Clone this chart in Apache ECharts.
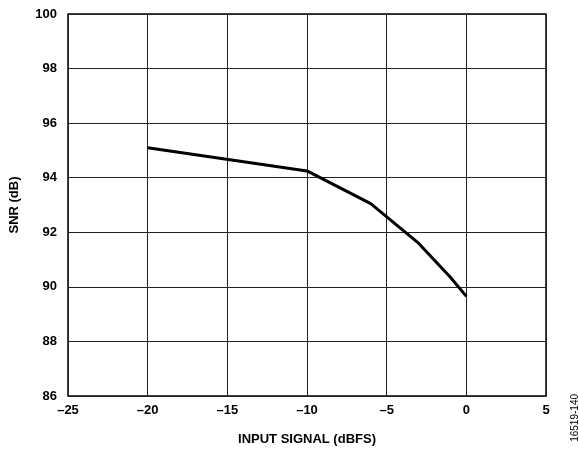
<!DOCTYPE html>
<html>
<head>
<meta charset="utf-8">
<script src="https://cdn.jsdelivr.net/npm/echarts@6/dist/echarts.min.js"></script>
<style>
html,body{margin:0;padding:0;background:#fff;}
#main{width:579px;height:451px;}
</style>
</head>
<body>
<div id="main"></div>
<script>
// 输入信号 (dBFS) 与 SNR (dB)
var inputSignal = [-20, -10, -6, -3, -1, 0]
var snrValues = [95.1, 94.25, 93.05, 91.6, 90.35, 89.65]
var xTicks = [-25, -20, -15, -10, -5, 0, 5]
var yTicks = [86, 88, 90, 92, 94, 96, 98, 100]

var lineData = []
for (var i = 0; i < inputSignal.length; i++) {
    lineData.push([inputSignal[i], snrValues[i]])
}

function fmtMinus(v) {
    return v < 0 ? '\u2013' + Math.abs(v) : '' + v
}

var myChart = echarts.init(document.getElementById('main'))
var option = {
    animation: false,
    textStyle: {fontFamily: 'Liberation Sans'},
    grid: {
        left: 68,
        right: 33,
        top: 14,
        bottom: 55,
        show: true,
        borderColor: '#000',
        borderWidth: 1.5
    },
    xAxis: {
        type: 'value',
        min: xTicks[0],
        max: xTicks[xTicks.length - 1],
        interval: 5,
        name: 'INPUT SIGNAL (dBFS)',
        nameLocation: 'middle',
        nameGap: 37,
        nameTextStyle: {color: '#000', fontSize: 13, fontWeight: 'bold'},
        axisLine: {show: false},
        axisTick: {show: false},
        splitLine: {show: true, lineStyle: {color: '#222', width: 1}},
        axisLabel: {
            color: '#000',
            fontSize: 13,
            fontWeight: 'bold',
            margin: 8,
            formatter: fmtMinus
        }
    },
    yAxis: {
        type: 'value',
        min: yTicks[0],
        max: yTicks[yTicks.length - 1],
        interval: 2,
        name: 'SNR (dB)',
        nameLocation: 'middle',
        nameGap: 47,
        nameTextStyle: {color: '#000', fontSize: 13, fontWeight: 'bold'},
        axisLine: {show: false},
        axisTick: {show: false},
        splitLine: {show: true, lineStyle: {color: '#222', width: 1}},
        axisLabel: {
            color: '#000',
            fontSize: 13,
            fontWeight: 'bold',
            margin: 11
        }
    },
    graphic: [
        {
            type: 'text',
            left: 570,
            top: 394,
            rotation: Math.PI / 2,
            style: {
                text: '16519-140',
                fill: '#000',
                font: '10px Liberation Sans'
            }
        }
    ],
    series: [
        {
            type: 'line',
            data: lineData,
            symbol: 'none',
            lineStyle: {color: '#000', width: 3}
        }
    ]
}
myChart.setOption(option)
</script>
</body>
</html>
